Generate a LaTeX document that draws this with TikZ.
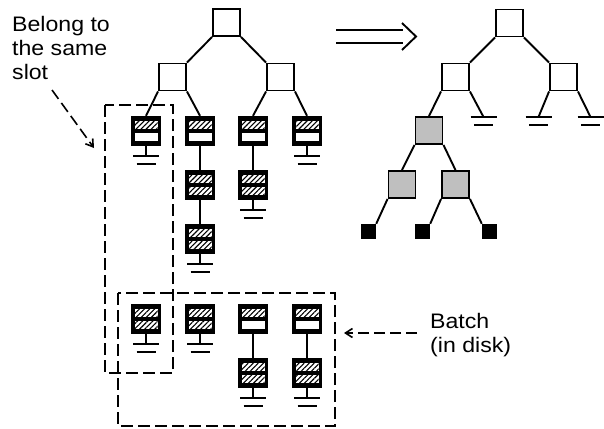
\documentclass[tikz,border=0pt]{standalone}
\usepackage{fontspec}
\setmainfont{Liberation Sans}
\usetikzlibrary{patterns.meta,arrows.meta}

\tikzset{
  wire/.style={line width=1.9pt},
  treebox/.style={draw, line width=1.9pt, minimum size=27pt, inner sep=0pt},
  shaded/.style={treebox, fill=black!25},
  leafbox/.style={fill=black, minimum size=15pt, inner sep=0pt},
  bucket/.style={fill=black, minimum size=30pt, inner sep=0pt},
  slotfree/.style={fill=white, minimum width=23pt, minimum height=8pt, inner sep=0pt},
  slotfull/.style={slotfree, postaction={pattern={Lines[angle=45,distance=3.6pt,line width=1.1pt]}}},
  frame/.style={line width=1.8pt, dash pattern=on 12pt off 5pt},
  pointer/.style={line width=1.6pt, dash pattern=on 11pt off 5pt, -{Straight Barb[length=7pt,width=9pt]}},
  label/.style={align=left, font=\fontsize{21}{24}\selectfont, xscale=1.1, inner sep=0pt, anchor=north west},
}

% bucket node: name, x, y, style of the lower slot
\newcommand\bucketat[4]{%
  \node[bucket] (#1) at (#2,#3) {};
  \node[slotfull] (#1-a) at (#2,{#3-6.5}) {};
  \node[#4] (#1-b) at (#2,{#3+6}) {};
}
% ground symbol hanging from a node's south side
\newcommand\groundbelow[1]{%
  \draw[wire] (#1.south) -- ++(0,10) coordinate (#1-g);
  \draw[wire] ([xshift=-13pt]#1-g) -- ([xshift=13pt]#1-g);
  \draw[wire] ([xshift=-9.5pt,yshift=-8pt]#1-g) -- ([xshift=9.5pt,yshift=-8pt]#1-g);
}
% ground symbol at a coordinate
\newcommand\groundat[1]{%
  \draw[wire] ([xshift=-13pt]#1) -- ([xshift=13pt]#1);
  \draw[wire] ([xshift=-9.5pt,yshift=-8pt]#1) -- ([xshift=9.5pt,yshift=-8pt]#1);
}

\begin{document}
\begin{tikzpicture}[x=1pt,y=-1pt]
\useasboundingbox (0,0) rectangle (604,428);

% ---- hashed directory tree with its buckets ----
\node[treebox] (r)  at (226.5,22.5) {};
\node[treebox] (rl) at (172.5,77) {};
\node[treebox] (rr) at (280.5,77) {};
\draw[wire] (r.south west) -- (rl.north east);
\draw[wire] (r.south east) -- (rr.north west);

\bucketat{b1}{146}{131}{slotfree}
\bucketat{b2}{200}{131}{slotfree}
\bucketat{b3}{253}{131}{slotfree}
\bucketat{b4}{307}{131}{slotfree}
\draw[wire] (rl.south west) -- (b1.north);
\draw[wire] (rl.south east) -- (b2.north);
\draw[wire] (rr.south west) -- (b3.north);
\draw[wire] (rr.south east) -- (b4.north);

\bucketat{b2x}{200}{185}{slotfull}
\bucketat{b2y}{200}{239}{slotfull}
\bucketat{b3x}{253}{185}{slotfull}
\draw[wire] (b2.south) -- (b2x.north);
\draw[wire] (b2x.south) -- (b2y.north);
\draw[wire] (b3.south) -- (b3x.north);

\groundbelow{b1}
\groundbelow{b4}
\groundbelow{b2y}
\groundbelow{b3x}

% ---- batch stored on disk ----
\bucketat{d1}{146}{319}{slotfull}
\bucketat{d2}{200}{319}{slotfull}
\bucketat{d3}{253}{319}{slotfree}
\bucketat{d4}{307}{319}{slotfree}
\bucketat{d3x}{253}{373}{slotfull}
\bucketat{d4x}{307}{373}{slotfull}
\draw[wire] (d3.south) -- (d3x.north);
\draw[wire] (d4.south) -- (d4x.north);
\groundbelow{d1}
\groundbelow{d2}
\groundbelow{d3x}
\groundbelow{d4x}

% ---- dashed groupings ----
\draw[frame] (105,105) rectangle (173,373);
\draw[frame] (118,293) rectangle (335,426);

% ---- transformation arrow ----
\coordinate (ta) at (336,30);
\coordinate (tb) at (336,43);
\draw[wire] (ta) -- ++(67,0);
\draw[wire] (tb) -- ++(67,0);
\draw[wire] (402,23) -- (416,36.5) -- (402,50);

% ---- resulting tree ----
\node[treebox] (s)  at (509.5,23) {};
\node[treebox] (sl) at (455.5,77) {};
\node[treebox] (sr) at (563.5,77) {};
\draw[wire] (s.south west) -- (sl.north east);
\draw[wire] (s.south east) -- (sr.north west);

\coordinate (g1) at (483.5,117);
\coordinate (g2) at (538.5,117);
\coordinate (g3) at (590.5,117);
\draw[wire] (sl.south east) -- (g1);
\draw[wire] (sr.south west) -- (g2);
\draw[wire] (sr.south east) -- (g3);
\groundat{g1}
\groundat{g2}
\groundat{g3}

\node[shaded] (p)  at (429,130.5) {};
\node[shaded] (pl) at (402,184.5) {};
\node[shaded] (pr) at (455.5,184.5) {};
\draw[wire] (sl.south west) -- (p.north);
\draw[wire] (p.south west) -- (pl.north);
\draw[wire] (p.south east) -- (pr.north);

\node[leafbox] (q1) at (368.5,231.5) {};
\node[leafbox] (q2) at (422.5,231.5) {};
\node[leafbox] (q3) at (489.5,231.5) {};
\draw[wire] (pl.south west) -- (q1.north east);
\draw[wire] (pr.south west) -- (q2.north east);
\draw[wire] (pr.south east) -- (q3.north west);

% ---- labels ----
\node[label] (t1) at (12,16) {Belong to\\the same\\slot};
\coordinate (t1a) at (52,90);
\coordinate (t1b) at (94,148);
\draw[pointer] (t1a) -- (t1b);

\node[label] (t2) at (430,313) {Batch\\(in disk)};
\coordinate (t2a) at (417,333);
\coordinate (t2b) at (344,333);
\draw[pointer] (t2a) -- (t2b);
\end{tikzpicture}
\end{document}
